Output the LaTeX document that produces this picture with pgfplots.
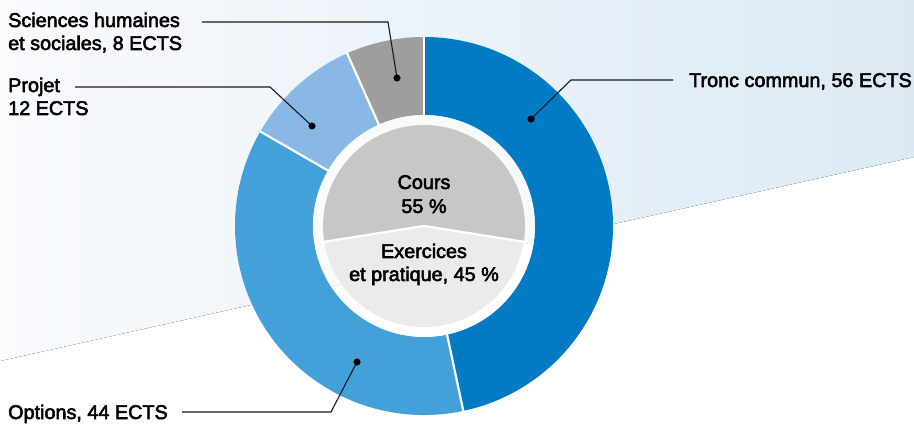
\documentclass[border=0pt]{standalone}
\usepackage{pgfplots}
\pgfplotsset{compat=1.18}
\usepackage{pgfplotstable}
\usepackage{fontspec}
\setmainfont{Liberation Sans}

\definecolor{tronc}{HTML}{007BC4}
\definecolor{options}{HTML}{43A0D9}
\definecolor{projet}{HTML}{89B8E4}
\definecolor{sciences}{HTML}{9E9E9D}
\definecolor{cours}{HTML}{C7C7C7}
\definecolor{exer}{HTML}{EBEBEB}
\definecolor{bgL}{HTML}{F9FBFD}
\definecolor{bgR}{HTML}{DCE9F5}

\pgfplotstableread{
name ects col
Tronc 56 tronc
Options 44 options
Projet 12 projet
Sciences 8 sciences
}\ectsdata

\pgfplotstableread{
name pct col
Exercices 45 exer
Cours 55 cours
}\pctdata

\newcommand\lab{\fontsize{19.8}{23}\selectfont}
\newcommand\heavy[1]{\special{pdf:literal direct 2 Tr 0.55 w}#1\special{pdf:literal direct 0 Tr 0.4 w}}

\begin{document}
\begin{tikzpicture}
\begin{axis}[
  scale only axis, width=914pt, height=426pt,
  xmin=0, xmax=914, ymin=0, ymax=426,
  axis lines=none, clip=false,
]
% background band
\fill[left color=bgL, right color=bgR] (axis cs:0,426) -- (axis cs:914,426) -- (axis cs:914,269) -- (axis cs:0,65) -- cycle;
\coordinate (bl) at (rel axis cs:0,0);
\coordinate (tr) at (rel axis cs:1,1);

\pgfplotsextra{
  \coordinate (c) at (axis cs:424,200);
  % outer ring
  \gdef\cum{0}
  \pgfplotstableforeachcolumnelement{ects}\of\ectsdata\as\v{%
    \pgfmathsetmacro\a{90-\cum*3}%
    \pgfmathsetmacro\b{90-(\cum+\v)*3}%
    \pgfplotstablegetelem{\pgfplotstablerow}{col}\of\ectsdata
    \let\thiscol\pgfplotsretval
    \fill[\thiscol] ([shift={(c)}]\a:189pt) arc[start angle=\a, end angle=\b, radius=189pt]
      -- ([shift={(c)}]\b:111pt) arc[start angle=\b, end angle=\a, radius=111pt] -- cycle;
    \pgfmathsetmacro\newcum{\cum+\v}%
    \xdef\cum{\newcum}%
  }
  \gdef\cum{0}
  \pgfplotstableforeachcolumnelement{ects}\of\ectsdata\as\v{%
    \pgfmathsetmacro\a{90-\cum*3}%
    \draw[white, line width=2.2pt] ([shift={(c)}]\a:110pt) -- ([shift={(c)}]\a:189.5pt);
    \pgfmathsetmacro\newcum{\cum+\v}%
    \xdef\cum{\newcum}%
  }
  % light ring
  \fill[white, opacity=0.65] (c) circle[radius=111pt];
  % inner pie
  \gdef\cum{0}
  \pgfplotstableforeachcolumnelement{pct}\of\pctdata\as\v{%
    \pgfmathsetmacro\a{270+45*1.8-\cum*3.6}%
    \pgfmathsetmacro\b{270+45*1.8-(\cum+\v)*3.6}%
    \pgfplotstablegetelem{\pgfplotstablerow}{col}\of\pctdata
    \let\thiscol\pgfplotsretval
    \fill[\thiscol] (c) -- ([shift={(c)}]\a:101pt) arc[start angle=\a, end angle=\b, radius=101pt] -- cycle;
    \pgfmathsetmacro\newcum{\cum+\v}%
    \xdef\cum{\newcum}%
  }
  \draw[white, line width=2.2pt] ([shift={(c)}]351:101.5pt) -- (c) -- ([shift={(c)}]189:101.5pt);
}

% leader lines
\addplot[black!90, line width=1.1pt, mark=none] coordinates {(202,404) (388,404) (397,348)};
\addplot[black!90, line width=1.1pt, mark=none] coordinates {(75,339) (270,339) (312,300)};
\addplot[black!90, line width=1.1pt, mark=none] coordinates {(673,346) (571,346) (531,307)};
\addplot[black!90, line width=1.1pt, mark=none] coordinates {(182,14) (331,14) (357,64)};
\addplot[only marks, mark=*, mark size=3.3pt, black] coordinates {(397,348) (312,300) (531,307) (357,64)};

% labels
\node[anchor=base west, font=\lab, inner sep=0pt] at (axis cs:8,399) {\heavy{Sciences humaines}};
\node[anchor=base west, font=\lab, inner sep=0pt] at (axis cs:8,376) {\heavy{et sociales, 8 ECTS}};
\node[anchor=base west, font=\lab, inner sep=0pt] at (axis cs:8,334) {\heavy{Projet}};
\node[anchor=base west, font=\lab, inner sep=0pt] at (axis cs:8,311) {\heavy{12 ECTS}};
\node[anchor=base west, font=\lab, inner sep=0pt] at (axis cs:689,339) {\heavy{Tronc commun, 56 ECTS}};
\node[anchor=base west, font=\lab, inner sep=0pt] at (axis cs:8,7) {\heavy{Options, 44 ECTS}};

\node[anchor=base, font=\lab, inner sep=0pt] at (axis cs:424,237) {\heavy{Cours}};
\node[anchor=base, font=\lab, inner sep=0pt] at (axis cs:424,213) {\heavy{55 \%}};
\node[anchor=base, font=\lab, inner sep=0pt] at (axis cs:424,168) {\heavy{Exercices}};
\node[anchor=base, font=\lab, inner sep=0pt] at (axis cs:424,145) {\heavy{et pratique, 45 \%}};
\end{axis}
\pgfresetboundingbox
\useasboundingbox (bl) rectangle (tr);
\end{tikzpicture}
\end{document}
